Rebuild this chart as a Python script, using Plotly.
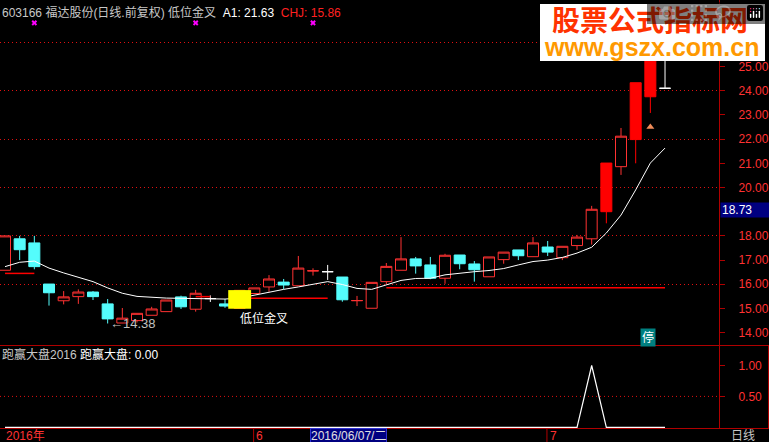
import plotly.graph_objects as go

W, H = 769, 442

# ---------------- data ----------------
idx = list(range(1, 47))
opens = [16.58, 17.88, 17.71, 16.01, 15.32, 15.49, 15.68, 15.19, 14.40, 14.50,
         14.72, 14.87, 15.48, 14.97, 15.41, 15.19, 15.00, 15.62, 15.89, 16.09,
         15.94, 16.55, 16.52, 16.30, 15.32, 15.01, 16.11, 16.58, 17.05, 16.80,
         16.25, 17.21, 16.84, 16.31, 17.02, 17.42, 17.14, 17.54, 17.10, 17.60,
         17.88, 19.00, 20.86, 21.98, 23.75, 24.10]
highs = [18.00, 18.00, 18.00, 16.01, 15.72, 15.79, 15.72, 15.39, 15.02, 14.80,
         15.07, 15.35, 15.53, 15.77, 15.54, 15.39, 15.75, 15.85, 16.38, 16.22,
         17.17, 16.66, 16.80, 16.30, 15.52, 16.08, 16.88, 17.95, 17.13, 17.13,
         17.26, 17.21, 16.96, 17.13, 17.33, 17.42, 17.95, 17.79, 17.57, 18.04,
         19.24, 21.01, 22.46, 24.33, 26.76, 26.20]
lows = [16.58, 17.00, 16.62, 15.12, 15.17, 15.19, 15.35, 14.38, 14.40, 14.42,
        14.72, 14.87, 14.98, 14.87, 15.27, 15.03, 15.00, 15.62, 15.69, 15.80,
        15.94, 16.36, 16.18, 15.28, 15.10, 15.01, 16.00, 16.58, 16.44, 16.21,
        16.02, 16.62, 16.11, 16.31, 16.85, 17.00, 17.14, 17.17, 17.00, 17.42,
        17.64, 18.52, 20.52, 21.00, 23.08, 24.10]
closes = [18.00, 17.43, 16.73, 15.65, 15.48, 15.68, 15.49, 14.57, 14.60, 14.80,
          14.98, 15.35, 15.07, 15.63, 15.41, 15.10, 15.75, 15.85, 16.22, 15.97,
          16.67, 16.56, 16.52, 15.36, 15.33, 16.08, 16.74, 17.05, 16.76, 16.25,
          17.20, 16.85, 16.60, 17.13, 17.33, 17.18, 17.71, 17.33, 17.57, 17.95,
          19.10, 21.01, 22.12, 24.33, 26.76, 24.10]
# A1 moving average line
ma = [16.73, 16.91, 16.96, 16.67, 16.47, 16.29, 16.11, 15.85, 15.63, 15.50,
      15.45, 15.43, 15.42, 15.40, 15.39, 15.39, 15.43, 15.56, 15.66, 15.79,
      15.89, 16.01, 16.11, 15.99, 15.83, 15.79, 15.97, 16.16, 16.24, 16.25,
      16.39, 16.47, 16.52, 16.57, 16.65, 16.80, 16.94, 17.00, 17.11, 17.29,
      17.53, 18.12, 18.86, 19.90, 21.01, 21.63]
# CHJ support segments
chj = [16.45, 16.45, 16.45, None, None, None, None, None, None, None,
       None, None, None, 15.49, 15.49, None, 15.42, 15.42, 15.42, 15.42,
       15.42, 15.42, 15.42, None, None, None, 15.86, 15.86, 15.86, 15.86,
       15.86, 15.86, 15.86, 15.86, 15.86, 15.86, 15.86, 15.86, 15.86, 15.86,
       15.86, 15.86, 15.86, 15.86, 15.86, 15.86]
# lower panel indicator 跑赢大盘
pyd = [0, 0, 0, 0, 0, 0, 0, 0, 0, 0,
       0, 0, 0, 0, 0, 0, 0, 0, 0, 0,
       0, 0, 0, 0, 0, 0, 0, 0, 0, 0,
       0, 0, 0, 0, 0, 0, 0, 0, 0, 0,
       1, 0, 0, 0, 0, 0]
signal_idx = [17]          # 低位金叉
signal_low = [14.99]
signal_high = [15.76]
cross_idx = [3, 14, 22]    # magenta marks at top
warn_idx = [45]            # orange marker
stop_idx = [45]            # 停
month_ticks = [(18, "6"), (38, "7")]
date_idx = 22
date_label = "2016/06/07/二"
year_label = "2016年"
cursor_label = "18.73"
price_ticks = [14, 15, 16, 17, 18, 20, 21, 22, 23, 24, 25]
grid_ticks = [16, 18, 20, 22, 24, 26]
sub_ticks = [0.5, 1.0]
sub_grid = [0.5]

# ---------------- styling ----------------
RED = "#ff3232"
RED_FILL = "#ff0000"
CYAN = "#54fcfc"
WHITE = "#ffffff"
GRID = "#e01010"
FRAME = "#b00000"
LABEL = "#ff3232"
FONT = "Liberation Sans, Noto Sans CJK SC"

PX_PER_BAR = 14.667
FIRST_PX = 5.0
PLOT_W = 719
MAIN_BOTTOM = 346
SUB_BOTTOM = 428

x_lo = 1 - FIRST_PX / PX_PER_BAR
x_hi = x_lo + PLOT_W / PX_PER_BAR
y_main = [13.45, 27.748]
y_sub = [-0.0113, 1.3155]


def py(p):
    return (H - p) / H


def px(p):
    return p / W


fig = go.Figure()

prev_close = [None] + closes[:-1]


def kind(k):
    o, c, p = opens[k], closes[k], prev_close[k]
    if c == o:
        return "doji"
    if c < o:
        return "down"
    if p is not None and c / p - 1 >= 0.095:
        return "limit"
    return "up"


# candles live on y (the axis carrying the dotted grid)
styles = {"up": ("black", RED), "down": (CYAN, CYAN),
          "limit": (RED_FILL, RED_FILL), "doji": ("black", WHITE)}
for name, (fill, line) in styles.items():
    ks = [k for k in range(len(idx)) if kind(k) == name]
    if not ks:
        continue
    side = dict(fillcolor=fill, line=dict(color=line, width=1))
    fig.add_trace(go.Candlestick(
        x=[idx[k] for k in ks], open=[opens[k] for k in ks],
        high=[highs[k] for k in ks], low=[lows[k] for k in ks],
        close=[closes[k] for k in ks], increasing=side, decreasing=side,
        whiskerwidth=0, hoverinfo="skip", showlegend=False,
        xaxis="x", yaxis="y"))

# indicator lines live on y3 (same range, carries the price labels)
fig.add_trace(go.Scatter(x=idx, y=ma, mode="lines", line=dict(color=WHITE, width=1),
                         hoverinfo="skip", xaxis="x", yaxis="y3"))
fig.add_trace(go.Scatter(x=idx, y=chj, mode="lines", connectgaps=False,
                         line=dict(color=RED_FILL, width=1.5), hoverinfo="skip",
                         xaxis="x", yaxis="y3"))
fig.add_trace(go.Scatter(x=cross_idx, y=[26.8] * len(cross_idx), mode="markers",
                         marker=dict(symbol="x", size=5, color="#ff00ff", line=dict(width=0)),
                         hoverinfo="skip", xaxis="x", yaxis="y3"))
fig.add_trace(go.Scatter(x=warn_idx, y=[lows[i - 1] * 0.975 for i in warn_idx], mode="markers",
                         marker=dict(symbol="triangle-up", size=7, color="#f08c5a"),
                         hoverinfo="skip", xaxis="x", yaxis="y3"))
for i, lo, hi in zip(signal_idx, signal_low, signal_high):
    half = 0.78
    fig.add_trace(go.Scatter(x=[i - half, i + half, i + half, i - half, i - half],
                             y=[lo, lo, hi, hi, lo], mode="lines", fill="toself",
                             fillcolor="#ffff00", line=dict(width=0, color="#ffff00"),
                             hoverinfo="skip", xaxis="x", yaxis="y3"))

fig.add_trace(go.Scatter(x=idx, y=pyd, mode="lines", line=dict(color=WHITE, width=1.2),
                         hoverinfo="skip", xaxis="x2", yaxis="y2"))

label_common = dict(side="right", ticks="outside", ticklen=5, tickcolor=FRAME,
                    tickfont=dict(color=LABEL, size=12, family=FONT), tickformat=".2f",
                    showgrid=False, zeroline=False, showline=True, linecolor=FRAME,
                    fixedrange=True, ticklabelstandoff=11, automargin=False)
grid_common = dict(side="right", showticklabels=False, ticks="", showgrid=True,
                   gridcolor=GRID, griddash="1px,3px", gridwidth=1, zeroline=False,
                   showline=False, fixedrange=True, automargin=False)

fig.update_layout(
    width=W, height=H, margin=dict(l=0, r=0, t=0, b=0, pad=0),
    paper_bgcolor="black", plot_bgcolor="black", showlegend=False,
    boxmode="overlay", boxgap=0.25, boxgroupgap=0,
    xaxis=dict(domain=[0, px(PLOT_W)], range=[x_lo, x_hi], visible=False,
               rangeslider=dict(visible=False), anchor="y", fixedrange=True),
    xaxis2=dict(domain=[0, px(PLOT_W)], matches="x", visible=False, anchor="y2"),
    yaxis=dict(domain=[py(MAIN_BOTTOM), 1], range=y_main, anchor="x",
               tickvals=grid_ticks, **grid_common),
    yaxis3=dict(overlaying="y", range=y_main, anchor="x", tickvals=price_ticks, **label_common),
    yaxis2=dict(domain=[py(SUB_BOTTOM), py(MAIN_BOTTOM)], range=y_sub, anchor="x2",
                tickvals=sub_ticks, **label_common),
    font=dict(family=FONT, size=12, color=WHITE),
)

shapes = [
    dict(type="line", xref="paper", yref="paper", x0=0, x1=1,
         y0=py(MAIN_BOTTOM - 0.5), y1=py(MAIN_BOTTOM - 0.5), line=dict(color=FRAME, width=1)),
    dict(type="line", xref="paper", yref="paper", x0=0, x1=1,
         y0=py(SUB_BOTTOM + 0.5), y1=py(SUB_BOTTOM + 0.5), line=dict(color=FRAME, width=1)),
    dict(type="line", xref="paper", yref="paper", x0=px(768.5), x1=px(768.5),
         y0=py(SUB_BOTTOM + 0.5), y1=py(MAIN_BOTTOM - 0.5), line=dict(color=FRAME, width=1)),
]
# dotted grid line of the lower panel
for g in sub_grid:
    shapes.append(dict(type="line", xref="x domain", yref="y2", x0=0, x1=1, y0=g, y1=g,
                       line=dict(color=GRID, width=1, dash="1px,3px"), layer="below"))
for m, _ in month_ticks:
    shapes.append(dict(type="line", xref="x", yref="paper", x0=m - 0.05, x1=m - 0.05,
                       y0=0, y1=py(SUB_BOTTOM), line=dict(color=FRAME, width=1)))
# watermark box
shapes.append(dict(type="rect", xref="paper", yref="paper", x0=px(540), x1=px(765),
                   y0=py(61), y1=py(4), fillcolor="white", line=dict(width=0), layer="above"))
fig.update_layout(shapes=shapes)

ann = []
ann.append(dict(xref="paper", yref="paper", x=0, y=py(12), xanchor="left", yanchor="middle",
                showarrow=False, font=dict(size=12, color="#c8c8c8", family=FONT),
                text="603166 福达股份(日线.前复权) 低位金叉  <span style='color:#ffffff'>A1: 21.63</span>"
                     "  <span style='color:#ff2020'>CHJ: 15.86</span>"))
ann.append(dict(xref="paper", yref="paper", x=0, y=py(354), xanchor="left", yanchor="middle",
                showarrow=False, font=dict(size=12, color="#c8c8c8", family=FONT),
                text="跑赢大盘2016 <span style='color:#ffffff'>跑赢大盘: 0.00</span>"))
kmin = min(range(len(lows)), key=lambda k: lows[k])
ann.append(dict(xref="x", yref="y", x=idx[kmin], y=lows[kmin], xanchor="left", yanchor="middle",
                showarrow=False, font=dict(size=13, color="#c0c0c0", family=FONT),
                text="←%.2f" % lows[kmin]))
for i, lo in zip(signal_idx, signal_low):
    ann.append(dict(xref="x", yref="y", x=i, y=lo, xanchor="left", yanchor="top",
                    showarrow=False, font=dict(size=12, color=WHITE, family=FONT),
                    text="低位金叉", xshift=-2))
for i in stop_idx:
    ann.append(dict(xref="x", yref="paper", x=i, y=py(337), xanchor="center", yanchor="middle",
                    showarrow=False, font=dict(size=12, color=WHITE, family=FONT),
                    text="停", bgcolor="#008080", borderpad=1, xshift=-2))
ann.append(dict(xref="paper", yref="paper", x=px(719.5), y=py(210), xanchor="left",
                yanchor="middle", showarrow=False, width=46, height=12, align="left",
                font=dict(size=12, color=WHITE, family=FONT), text=cursor_label,
                bgcolor="#000080", borderpad=1))
ann.append(dict(xref="paper", yref="paper", x=px(4), y=py(436), xanchor="left",
                yanchor="middle", showarrow=False, font=dict(size=12, color=LABEL, family=FONT),
                text=year_label))
for m, lab in month_ticks:
    ann.append(dict(xref="x", yref="paper", x=m, y=py(436), xanchor="left", yanchor="middle",
                    showarrow=False, font=dict(size=12, color=LABEL, family=FONT), text=lab))
ann.append(dict(xref="x", yref="paper", x=date_idx, y=py(435.5), xanchor="left",
                yanchor="middle", showarrow=False, xshift=-3,
                font=dict(size=12, color="#e0e0e0", family=FONT), text=date_label,
                bgcolor="#000080", bordercolor="#3030d0", borderwidth=1, borderpad=0))
ann.append(dict(xref="paper", yref="paper", x=px(743), y=py(436), xanchor="center",
                yanchor="middle", showarrow=False, font=dict(size=12, color="#c8c8c8", family=FONT),
                text="日线"))
ann.append(dict(xref="paper", yref="paper", x=px(650), y=py(19), xanchor="center",
                yanchor="middle", showarrow=False,
                font=dict(size=28, color="#ff3300", family="Noto Sans CJK SC", weight="bold"),
                text="股票公式指标网"))
ann.append(dict(xref="paper", yref="paper", x=px(651), y=py(47), xanchor="center",
                yanchor="middle", showarrow=False,
                font=dict(size=25, color="#ff9900", family="Liberation Sans", weight="bold"),
                text="www.gszx.com.cn"))
fig.update_layout(annotations=ann)

fig.write_html("out.html", post_script="document.body.style.margin='0';")
